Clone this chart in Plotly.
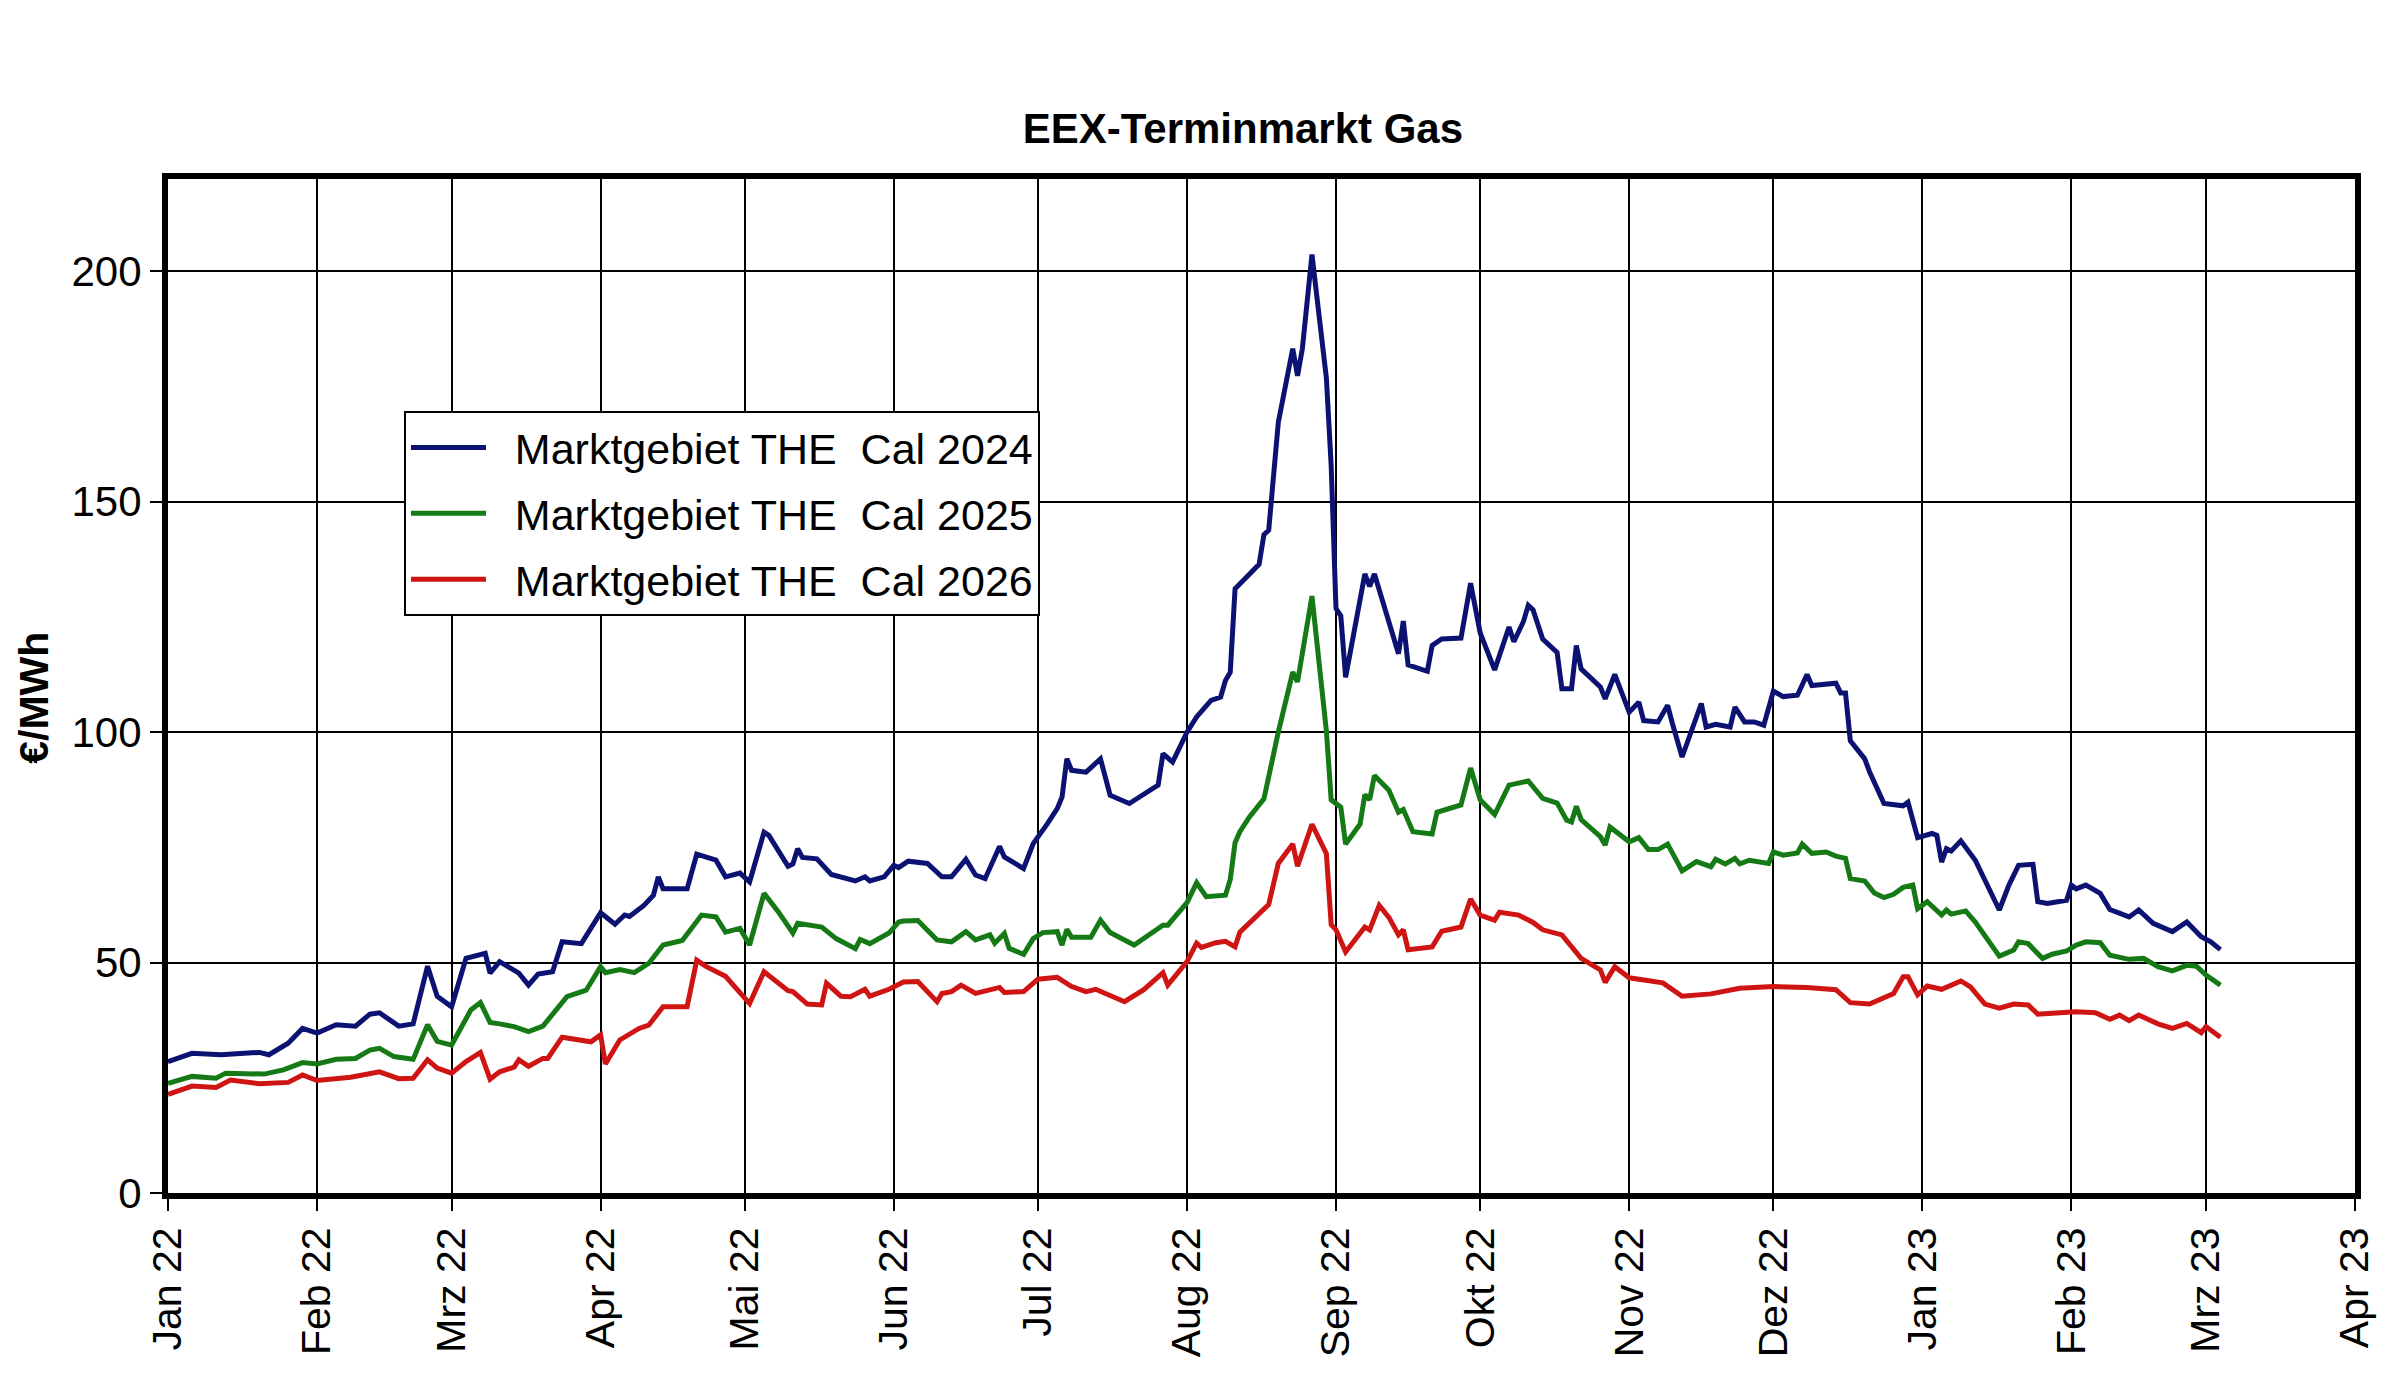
import pandas as pd
import plotly.graph_objects as go

# day offsets from 2022-01-01 and values (€/MWh)
days_cal24 = [0,5,11,19,21,25,28,31,35,39,42,44,48,51,54,56,59,62,66,67,69,73,75,77,80,82,86,88,90,93,95,96,99,101,102,103,108,110,114,116,119,121,124,125,129,130,131,132,135,138,143,145,146,149,151,152,154,158,161,163,166,168,170,173,174,178,180,183,185,186,187,188,191,194,196,200,202,206,207,209,212,214,217,219,220,221,222,227,228,229,231,234,235,236,238,241,242,243,244,245,249,250,251,256,257,258,262,263,265,269,271,273,276,279,280,282,283,284,286,289,290,292,293,294,298,299,301,304,306,307,310,312,313,315,319,320,322,325,326,328,330,332,334,336,339,341,342,347,348,349,350,353,354,357,361,362,364,367,368,369,370,371,373,376,381,383,385,388,389,391,395,396,397,399,402,404,408,410,413,417,420,423,425,427]
cal24 = [28.5,30.3,30.0,30.5,30.0,32.5,35.7,34.7,36.5,36.2,38.8,39.1,36.2,36.7,49.2,42.7,40.4,50.9,52.0,47.7,50.2,47.7,45.1,47.5,48.0,54.5,54.1,57.7,60.8,58.3,60.3,60.0,62.4,64.6,68.6,66.0,66.0,73.5,72.2,68.6,69.4,67.5,78.3,77.6,70.9,71.4,74.7,72.8,72.5,69.1,67.7,68.6,67.7,68.6,71.1,70.6,72.0,71.5,68.6,68.6,72.4,69.0,68.2,75.2,72.9,70.4,75.8,80.2,83.4,85.9,94.2,91.7,91.3,94.2,86.3,84.5,85.9,88.5,95.3,93.5,100.0,103.3,106.9,107.6,111.2,113.0,131.1,136.4,142.8,143.8,167.2,183.2,177.3,183.2,203.6,176.8,157.7,126.8,125.2,111.9,134.3,131.6,134.3,117.0,124.1,114.6,113.2,118.8,120.2,120.4,132.3,121.5,113.5,122.8,119.6,124.0,127.5,126.5,120.2,117.3,109.4,109.4,118.8,113.7,109.8,107.2,112.5,104.3,106.5,102.5,102.2,105.8,101.8,94.6,106.2,101.1,101.7,101.1,105.4,102.2,102.2,101.5,108.9,107.7,108.0,112.5,110.1,110.6,108.5,108.5,98.1,94.2,91.4,84.5,84.0,84.8,77.1,78.0,77.6,71.8,74.7,74.2,76.4,72.2,61.4,66.8,71.1,71.3,63.2,62.8,63.5,66.8,66.0,66.8,65.0,61.5,59.9,61.4,58.5,56.7,58.8,55.6,54.5,52.8]

days_cal25 = [0,5,10,12,20,24,28,31,35,39,42,44,47,51,54,56,59,63,65,67,69,72,75,78,83,87,90,91,94,97,100,103,107,111,114,116,119,121,124,127,130,131,136,139,143,144,146,150,152,153,156,160,163,166,168,171,172,174,175,178,180,182,185,186,187,188,192,194,196,201,207,208,212,214,216,220,221,222,223,225,228,231,234,235,238,241,242,244,245,248,249,250,251,254,256,257,259,263,264,269,271,273,276,279,283,286,289,291,292,293,294,298,299,300,304,306,308,310,312,315,318,321,322,324,326,327,329,333,334,336,339,340,342,345,347,349,350,353,355,357,359,361,363,364,366,369,370,371,374,376,381,384,385,387,390,392,395,397,399,402,404,408,411,414,417,420,422,424,427]
cal25 = [23.8,25.3,24.9,26.0,25.8,26.7,28.3,28.0,29.0,29.2,31.0,31.4,29.6,29.0,36.5,32.9,32.1,39.7,41.3,37.0,36.7,36.1,35.0,36.2,42.6,44.0,49.1,47.8,48.5,47.8,49.8,53.8,54.8,60.3,59.9,56.6,57.4,53.8,65.0,61.0,56.4,58.5,57.7,55.2,53.0,55.0,54.1,56.4,58.8,59.0,59.1,54.9,54.5,56.7,54.9,56.0,54.2,56.3,53.1,51.8,55.2,56.5,56.7,53.8,57.2,55.5,55.5,59.2,56.5,53.8,58.1,58.1,63.0,67.3,64.3,64.6,68.0,76.0,78.4,81.6,85.5,100.0,113.0,110.9,129.5,100.2,85.3,83.7,75.7,80.0,86.4,85.3,90.6,87.4,82.6,83.2,78.4,77.9,82.6,84.2,92.2,85.3,82.1,88.5,89.4,85.6,84.6,80.9,80.5,83.9,81.0,77.3,75.5,79.4,76.2,77.1,74.5,74.5,75.7,69.9,71.9,70.8,72.4,71.4,72.6,71.4,72.2,71.5,74.0,73.3,73.8,75.7,73.7,74.0,73.1,72.6,68.2,67.7,65.1,64.1,64.8,66.3,66.8,61.7,63.2,60.3,61.4,60.5,61.2,58.8,51.4,52.7,54.5,54.1,50.9,51.8,52.5,53.8,54.5,54.3,51.6,50.7,50.9,49.1,48.2,49.4,49.2,47.3,45.1]

days_cal26 = [0,5,10,13,19,25,28,31,38,44,48,51,54,56,59,62,65,67,69,72,73,75,78,79,82,88,90,91,94,98,100,103,108,110,112,116,121,124,129,130,133,136,137,140,142,145,146,150,153,156,160,161,163,165,168,173,174,178,181,185,188,191,193,199,203,207,208,212,214,215,218,220,222,223,229,231,234,235,238,241,242,243,245,249,250,252,254,256,257,258,263,265,269,271,273,276,277,281,284,286,290,294,298,299,301,304,311,315,321,327,334,341,347,350,354,359,361,362,364,366,369,373,375,378,381,384,387,389,392,397,401,404,406,408,410,414,417,420,423,424,427]
cal26 = [21.4,23.2,22.9,24.5,23.7,24.0,25.6,24.4,25.1,26.3,24.8,24.9,28.9,27.1,26.0,28.5,30.5,24.7,26.3,27.3,28.9,27.5,29.2,29.2,33.8,32.8,34.3,28.0,33.2,35.7,36.4,40.4,40.4,50.5,49.1,47.0,41.1,48.0,43.9,43.7,41.0,40.8,45.5,42.7,42.6,44.2,42.7,44.2,45.8,45.9,41.5,43.3,43.7,45.1,43.3,44.6,43.5,43.7,46.4,46.8,44.8,43.7,44.2,41.5,44.1,47.8,45.1,50.2,54.2,53.3,54.3,54.6,53.4,56.6,62.6,71.5,75.7,70.9,80.0,73.6,58.2,57.1,52.3,57.7,57.1,62.4,59.8,56.0,57.1,52.8,53.4,56.8,57.7,63.8,60.3,59.2,60.9,60.3,58.7,57.1,56.0,50.9,48.4,45.7,49.1,46.7,45.6,42.7,43.2,44.4,44.8,44.6,44.1,41.3,41.0,43.3,46.9,46.9,43.0,44.9,44.2,46.0,44.7,41.0,40.1,41.0,40.8,38.8,39.0,39.3,39.1,37.7,38.6,37.4,38.6,36.7,35.7,36.8,34.8,36.1,33.8]

series_names = ["\u00a0\u00a0Marktgebiet THE\u00a0 Cal 2024", "\u00a0\u00a0Marktgebiet THE\u00a0 Cal 2025",
                "\u00a0\u00a0Marktgebiet THE\u00a0 Cal 2026"]
series_colors = ["#0c1272", "#157a15", "#cf1414"]

tick_dates = ["2022-01-01","2022-02-01","2022-03-01","2022-04-01","2022-05-01","2022-06-01","2022-07-01",
              "2022-08-01","2022-09-01","2022-10-01","2022-11-01","2022-12-01","2023-01-01","2023-02-01",
              "2023-03-01","2023-04-01"]
tick_labels = ["Jan 22","Feb 22","Mrz 22","Apr 22","Mai 22","Jun 22","Jul 22","Aug 22","Sep 22","Okt 22",
               "Nov 22","Dez 22","Jan 23","Feb 23","Mrz 23","Apr 23"]
y_ticks = [0, 50, 100, 150, 200]

base = pd.Timestamp("2022-01-01")
def to_dates(days):
    return base + pd.to_timedelta(days, unit="D")

FONT = "Liberation Sans, Arial, sans-serif"
fig = go.Figure()
for i, (d, v) in enumerate([(days_cal24, cal24), (days_cal25, cal25), (days_cal26, cal26)]):
    fig.add_trace(go.Scatter(x=to_dates(d), y=v, mode="lines", name=series_names[i],
                             legendgroup=f"g{i}",
                             line=dict(color=series_colors[i], width=5)))

# page body has an 8px default margin, so the figure is drawn 16px smaller
fig.update_layout(
    width=2384, height=1366,
    paper_bgcolor="white", plot_bgcolor="white",
    margin=dict(l=160, r=37, t=171, b=181),
    font=dict(family=FONT, color="black"),
    title=dict(text="<b>EEX-Terminmarkt Gas</b>", font=dict(size=42, family=FONT, color="black"),
               x=0.518, xref="container", xanchor="center", y=0.912, yref="container", yanchor="middle"),
    showlegend=True,
    legend=dict(x=0.1079, y=0.7712, xanchor="left", yanchor="top", bgcolor="white",
                bordercolor="black", borderwidth=2, font=dict(size=43, family=FONT, color="black"),
                traceorder="grouped", tracegroupgap=7, itemwidth=75),
)
fig.update_xaxes(type="date", range=["2022-01-01", "2023-04-01"], tickmode="array",
                 tickvals=tick_dates, ticktext=tick_labels, tickangle=-90,
                 tickfont=dict(size=41, family=FONT, color="black"),
                 showgrid=True, gridcolor="black", gridwidth=2,
                 ticks="outside", ticklen=12, tickwidth=2, tickcolor="black",
                 showline=True, linecolor="black", linewidth=6, mirror=True, zeroline=False)
fig.update_yaxes(range=[0, 220], tickmode="array", tickvals=y_ticks,
                 tickfont=dict(size=42, family=FONT, color="black"),
                 showgrid=True, gridcolor="black", gridwidth=2,
                 ticks="outside", ticklen=12, tickwidth=2, tickcolor="black",
                 showline=True, linecolor="black", linewidth=6, mirror=True, zeroline=False)
fig.add_annotation(text="<b>€/MWh</b>", textangle=-90, xref="paper", yref="paper",
                   x=-0.061, y=0.488, xanchor="center", yanchor="middle", showarrow=False,
                   font=dict(size=41, family=FONT, color="black"))

fig.write_html("out.html")
